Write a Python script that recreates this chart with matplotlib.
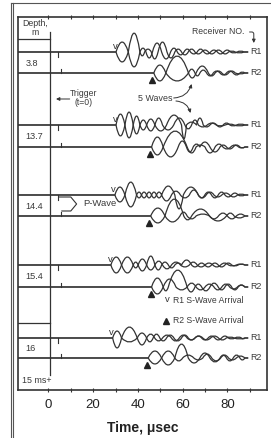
import matplotlib
matplotlib.use("Agg")
import matplotlib.pyplot as plt
from matplotlib.path import Path
from matplotlib.patches import PathPatch
from matplotlib.lines import Line2D
from matplotlib.ticker import FixedLocator

plt.rcParams["font.family"] = ["Liberation Sans", "DejaVu Sans"]

INK = "#333333"
TEXT = "#3a3a3a"

# depth rows, trace baselines (plot units, 0 = bottom of frame) and S arrivals (usec)
DEPTHS = ["3.8", "13.7", "14.4", "15.4", "16"]
R1_LEVEL = [338, 265, 195, 125, 52]
R2_LEVEL = [317, 243, 174, 103, 32]
R1_ARRIVAL = [29.7, 29.7, 29.0, 27.5, 28.2]
R2_ARRIVAL = [46.1, 45.4, 45.1, 45.7, 43.9]
EXTRA_ROW_LINES = [351, 67]

X_MAJOR = [0, 20, 40, 60, 80]
X_MINOR = [10, 30, 50, 70, 90]
T_START = -13.6
T_END = 89.3

# waveforms: zero crossings (usec) and lobe peaks (plot units), two hammer polarities
D38_R1_A_T = [30.2, 35.7, 40.9, 43.6, 46.5, 50.6, 54.6, 57.6, 60.6, 63.5, 66.5, 69.5, 72.5, 75.5, 78.4, 81.4, 84.4, 87.4]
D38_R1_A_Y = [10, -15, 4, -6, 9, -7, 4, -3, 3, -2, 3, -2, 2, -2, 2, -1, 1]
D38_R1_B_T = [30.2, 35.7, 40.9, 43.0, 46.0, 49.0, 53.0, 56.5, 59.5, 62.5, 65.5, 68.5, 71.5, 74.5, 77.5, 80.5, 83.5, 87.4]
D38_R1_B_Y = [-10, 19, -4, 3, -7, 10, -6, 3, -3, 3, -2, 2, -2, 2, -2, 1, -1]
D38_R2_A_T = [47.1, 52.5, 62.6, 65.5, 67.7, 70.7, 73.7, 76.7, 79.6, 82.6, 85.6, 87.8]
D38_R2_A_Y = [8, -8, 4, -3, 3, -3, 2, -2, 2, -2, 1]
D38_R2_B_T = [47.1, 52.5, 62.6, 66.0, 71.5, 74.5, 77.5, 80.5, 83.5, 87.8]
D38_R2_B_Y = [-8, 17, -5, 7, -3, 2, -2, 2, -1]

D137_R1_A_T = [30.2, 34.2, 37.9, 40.9, 43.9, 47.6, 52.8, 59.5, 61.7, 66.2, 69.2, 72.2, 75.2, 78.1, 81.1, 84.1, 87.8]
D137_R1_A_Y = [11, -13, 9, -5, 6, -6, 10, -14, 3, 7, -2, 2, -2, 2, -1, 1]
D137_R1_B_T = [30.2, 34.2, 37.9, 40.9, 43.9, 47.6, 51.0, 56.0, 61.0, 64.0, 67.0, 71.0, 75.0, 79.0, 83.0, 87.8]
D137_R1_B_Y = [-11, 13, -9, 5, -6, 7, -5, 7, -4, 5, -2, 2, -1, 1, -1]
D137_R2_A_T = [46.1, 51.3, 58.0, 61.7, 64.7, 67.7, 72.2, 76.7, 79.6, 82.6, 85.6, 87.8]
D137_R2_A_Y = [10, -10, 6, -5, 3, 5, -5, 2, -2, 2, -1]
D137_R2_B_T = [46.1, 51.3, 62.0, 66.0, 70.0, 74.5, 78.0, 81.5, 85.0, 87.8]
D137_R2_B_Y = [-8, 16, -6, 2, -6, 3, -2, 2, -1]

D144_R1_A_T = [29.7, 34.2, 39.4, 41.6, 43.9, 46.1, 48.3, 50.6, 56.5, 60.3, 67.0, 69.9, 72.9, 75.9, 78.9, 81.9, 84.8, 87.8]
D144_R1_A_Y = [8, -12, 3, -3, 3, -3, 3, 9, -14, 8, -3, 3, -3, 3, -2, 2, -1]
D144_R1_B_T = [29.7, 34.2, 39.4, 41.6, 43.9, 46.1, 48.3, 50.6, 55.0, 59.0, 63.0, 67.0, 70.5, 74.0, 77.5, 81.0, 84.5, 87.8]
D144_R1_B_Y = [-7, 13, -3, 3, -3, 3, -3, -6, 4, -3, 5, -3, 3, -2, 2, -2, 1]
D144_R2_A_T = [45.7, 52.1, 58.8, 62.0, 66.0, 72.0, 79.6, 83.0, 87.8]
D144_R2_A_Y = [8, -6, 4, -3, 2, -5, 3, -2]
D144_R2_B_T = [45.7, 52.1, 60.5, 64.0, 72.0, 76.0, 80.0, 84.0, 87.8]
D144_R2_B_Y = [-7, 17, -4, 7, -3, 3, -3, 2]

D154_R1_A_T = [27.9, 32.7, 37.9, 40.1, 43.9, 47.6, 50.6, 53.6, 56.5, 59.5, 64.0, 67.0, 69.9, 72.9, 75.9, 78.9, 81.9, 84.8, 87.8]
D154_R1_A_Y = [8, -8, 3, -6, 9, -5, 3, -3, 2, 5, -2, 2, -2, 2, -2, 2, -1, 1]
D154_R1_B_T = [27.9, 32.7, 37.9, 40.1, 43.9, 47.6, 51.0, 55.0, 59.0, 63.0, 66.5, 70.0, 73.5, 77.0, 80.5, 84.0, 87.8]
D154_R1_B_Y = [-8, 8, -3, 6, -5, 4, -4, 3, -2, 3, -2, 2, -2, 2, -1, 1]
D154_R2_A_T = [46.1, 51.3, 53.6, 62.0, 65.5, 68.5, 72.2, 75.9, 78.9, 81.9, 84.8, 87.8]
D154_R2_A_Y = [9, -4, 17, -5, 3, -4, 4, -3, 3, -3, 2]
D154_R2_B_T = [46.1, 51.3, 57.0, 62.0, 66.0, 70.0, 74.0, 77.5, 81.0, 84.5, 87.8]
D154_R2_B_Y = [-7, 8, -3, 4, -3, 3, -3, 3, -2, 2]

D16_R1_A_T = [28.7, 32.7, 39.7, 43.9, 46.8, 49.8, 52.8, 56.1, 59.5, 62.5, 65.5, 68.5, 71.4, 74.4, 77.4, 80.4, 83.4, 86.3, 87.8]
D16_R1_A_Y = [7, -4, 5, -4, 4, -3, 3, -3, 3, -2, 2, -2, 2, -2, 2, -1, 1, -1]
D16_R1_B_T = [28.7, 32.7, 39.7, 43.9, 47.5, 51.0, 55.0, 58.5, 62.0, 65.5, 69.0, 72.5, 76.0, 79.5, 83.0, 87.8]
D16_R1_B_Y = [-10, 11, -7, 4, -3, 3, -3, 3, -2, 2, -2, 2, -2, 1, -1]
D16_R2_A_T = [44.6, 50.6, 56.5, 62.5, 67.7, 72.2, 76.7, 79.6, 82.6, 85.6, 87.8]
D16_R2_A_Y = [7, -7, 14, -5, 5, -4, 3, -3, 3, -2]
D16_R2_B_T = [44.6, 50.6, 56.5, 60.0, 65.0, 69.0, 73.0, 77.0, 80.5, 84.0, 87.8]
D16_R2_B_Y = [-6, 7, -3, 3, -2, 4, -3, 3, -2, 2]

WAVES_R1 = [
    [(D38_R1_A_T, D38_R1_A_Y), (D38_R1_B_T, D38_R1_B_Y)],
    [(D137_R1_A_T, D137_R1_A_Y), (D137_R1_B_T, D137_R1_B_Y)],
    [(D144_R1_A_T, D144_R1_A_Y), (D144_R1_B_T, D144_R1_B_Y)],
    [(D154_R1_A_T, D154_R1_A_Y), (D154_R1_B_T, D154_R1_B_Y)],
    [(D16_R1_A_T, D16_R1_A_Y), (D16_R1_B_T, D16_R1_B_Y)],
]
WAVES_R2 = [
    [(D38_R2_A_T, D38_R2_A_Y), (D38_R2_B_T, D38_R2_B_Y)],
    [(D137_R2_A_T, D137_R2_A_Y), (D137_R2_B_T, D137_R2_B_Y)],
    [(D144_R2_A_T, D144_R2_A_Y), (D144_R2_B_T, D144_R2_B_Y)],
    [(D154_R2_A_T, D154_R2_A_Y), (D154_R2_B_T, D154_R2_B_Y)],
    [(D16_R2_A_T, D16_R2_A_Y), (D16_R2_B_T, D16_R2_B_Y)],
]


def wave_path(level, zeros, peaks):
    # flat baseline, then one quadratic lobe between each pair of zero crossings
    verts = [(T_START, level), (zeros[0], level)]
    codes = [Path.MOVETO, Path.LINETO]
    for t0, t1, a in zip(zeros[:-1], zeros[1:], peaks):
        verts += [((t0 + t1) / 2, level + 2 * a), (t1, level)]
        codes += [Path.CURVE3, Path.CURVE3]
    verts.append((T_END, level))
    codes.append(Path.LINETO)
    return Path(verts, codes)


fig = plt.figure(figsize=(2.71, 4.38), dpi=100)
ax = fig.add_axes([0.0664, 0.1096, 0.9188, 0.8516])
ax.set_xlim(T_START, 97.7)
ax.set_ylim(0, 373)

for levels, waves, name in ((R1_LEVEL, WAVES_R1, "R1"), (R2_LEVEL, WAVES_R2, "R2")):
    for level, pair in zip(levels, waves):
        for zeros, peaks in pair:
            ax.add_patch(PathPatch(wave_path(level, zeros, peaks), fill=False,
                                   edgecolor=INK, lw=0.9, joinstyle="round"))
        ax.text(90.0, level, name, fontsize=6.4, color=TEXT, ha="left", va="center")

# small trigger ticks on each trace
for lv1, lv2 in zip(R1_LEVEL, R2_LEVEL):
    ax.plot([4.3, 4.3], [lv1, lv1 - 5], color=INK, lw=0.8)
    ax.plot([5.8, 5.8], [lv2, lv2 + 4], color=INK, lw=0.8)

# S-wave arrival markers
for t, lv in zip(R1_ARRIVAL, R1_LEVEL):
    ax.text(t, lv + 5, "v", fontsize=6.8, color=INK, ha="center", va="center")
for t, lv in zip(R2_ARRIVAL, R2_LEVEL):
    ax.plot(t, lv - 7, marker="^", ms=3.8, color="#222222", ls="none")

# depth column
ax.plot([0.7, 0.7], [15, 358], color=INK, lw=0.9)
for lv in EXTRA_ROW_LINES:
    ax.plot([T_START, 0.7], [lv, lv], color=INK, lw=0.9)
ax.text(-11.6, 366.5, "Depth,", fontsize=6.3, color=TEXT, ha="left", va="center")
ax.text(-6.2, 357.0, "m", fontsize=6.3, color=TEXT, ha="center", va="center")
for depth, lv1, lv2 in zip(DEPTHS, R1_LEVEL, R2_LEVEL):
    ax.text(-10.2, (lv1 + lv2) / 2 - 1, depth, fontsize=6.6, color=TEXT,
            ha="left", va="center")
ax.text(-12.0, 9, "15 ms+", fontsize=6.4, color=TEXT, ha="left", va="center")

arrow_kw = dict(arrowstyle="-|>", lw=0.7, color=INK, mutation_scale=5)

ax.annotate("Receiver NO.", xy=(91.8, 347), xytext=(64.0, 358), fontsize=6.2,
            color=TEXT, ha="left", va="center",
            arrowprops=dict(arrow_kw, relpos=(1, 0.5), shrinkA=2, shrinkB=0,
                            connectionstyle="angle,angleA=0,angleB=90,rad=2"))

ax.text(15.9, 292, "Trigger\n(t=0)", fontsize=6.2, color=TEXT, ha="center",
        va="center", linespacing=1.0)
ax.annotate("", xy=(3.4, 291), xytext=(9.5, 291),
            arrowprops=dict(arrow_kw, shrinkA=0, shrinkB=0))

ax.text(40.1, 291, "5 Waves", fontsize=6.4, color=TEXT, ha="left", va="center")
ax.annotate("", xy=(64.0, 306), xytext=(56.0, 292),
            arrowprops=dict(arrow_kw, shrinkA=0, shrinkB=0,
                            connectionstyle="arc3,rad=0.35"))
ax.annotate("", xy=(63.5, 277), xytext=(57.0, 289),
            arrowprops=dict(arrow_kw, shrinkA=0, shrinkB=0,
                            connectionstyle="arc3,rad=-0.35"))

ax.plot([4.6, 10.0, 12.6, 10.0, 6.0], [193, 193, 186, 179, 179], color=INK, lw=0.8)
ax.text(15.5, 186, "P-Wave", fontsize=6.8, color=TEXT, ha="left", va="center")

ax.text(53.1, 90, "v", fontsize=6.8, color=INK, ha="center", va="center")
ax.text(55.8, 89, "R1 S-Wave Arrival", fontsize=6.2, color=TEXT, ha="left", va="center")
ax.plot(52.7, 69, marker="^", ms=3.8, color="#222222", ls="none")
ax.text(55.8, 69, "R2 S-Wave Arrival", fontsize=6.2, color=TEXT, ha="left", va="center")

# axes frame and ticks
for spine in ax.spines.values():
    spine.set_linewidth(1.2)
    spine.set_color(INK)
ax.set_yticks([])
ax.xaxis.set_major_locator(FixedLocator(X_MAJOR))
ax.xaxis.set_minor_locator(FixedLocator(X_MINOR))
ax.tick_params(axis="x", which="both", top=True, direction="inout", length=3,
               width=0.8, color=INK)
ax.tick_params(axis="x", which="major", labelsize=9.5, labelcolor="#222222", pad=5)
ax.set_xlabel("Time, \u03bcsec", fontsize=10, fontweight="bold", color="#222222",
              labelpad=7)

# scanned page border
for xf in (11 / 271, 13 / 271):
    fig.add_artist(Line2D([xf, xf], [0, 435 / 438], color="#555555", lw=0.8))
fig.add_artist(Line2D([11 / 271, 1.0], [435 / 438, 435 / 438], color="#555555", lw=0.8))

fig.savefig("out.png", dpi=100)
